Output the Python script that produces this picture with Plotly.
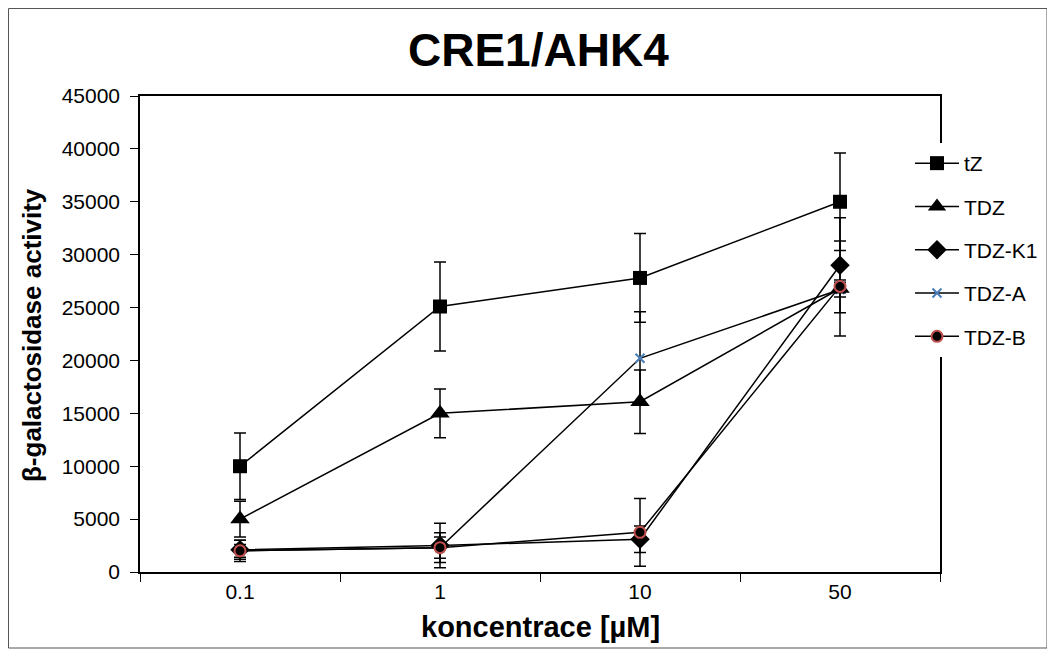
import plotly.graph_objects as go

categories = ["0.1", "1", "10", "50"]

tz = [10000, 25100, 27800, 35000]
tz_err = [3150, 4200, 4200, 4600]
tdz = [5000, 15000, 16100, 26800]
tdz_err = [1700, 2300, 3000, 4500]
tdz_k1 = [2100, 2500, 3100, 29000]
tdz_k1_err = [900, 2100, 1250, 4500]
tdz_a = [2000, 2300, 20200, 26700]
tdz_a_err = [600, 1000, 4400, 700]
tdz_b = [2000, 2300, 3750, 27000]
tdz_b_err = [1000, 1400, 3200, 600]

OFF = 8  # page body margin
W, H = 1055 - OFF, 657 - OFF
# plot area in screen pixels: x 140..940, y 96..572
L, T = 140 - OFF, 96 - OFF
R, B = W - (940 - OFF), H - (572 - OFF)
PW, PH = W - L - R, H - T - B

def px(x):
    return (x - OFF - L) / PW

def py(y):
    return (H - B - (y - OFF)) / PH

FONT = "Liberation Sans, Arial, sans-serif"

series = [
    ("tZ", tz, tz_err, dict(symbol="square", size=14, color="black")),
    ("TDZ", tdz, tdz_err, dict(symbol="triangle-up", size=17, color="black")),
    ("TDZ-K1", tdz_k1, tdz_k1_err, dict(symbol="diamond", size=15, color="black")),
    ("TDZ-A", tdz_a, tdz_a_err, dict(symbol="x-thin", size=9, color="#4a7ebb",
                                      line=dict(color="#4a7ebb", width=2))),
    ("TDZ-B", tdz_b, tdz_b_err, dict(symbol="circle", size=11, color="black",
                                      line=dict(color="#c0504d", width=2))),
]

fig = go.Figure()
for name, vals, errs, marker in series:
    fig.add_trace(go.Scatter(
        x=categories, y=vals, name=name, mode="lines+markers",
        legendgroup=name,
        line=dict(color="black", width=1.5),
        marker=marker,
        error_y=dict(type="data", array=errs, visible=True,
                     color="black", thickness=1.5, width=6),
    ))

fig.update_layout(
    width=W, height=H,
    margin=dict(l=L, r=R, t=T, b=B),
    paper_bgcolor="white", plot_bgcolor="white",
    font=dict(family=FONT, size=21, color="black"),
    showlegend=True,
    legend=dict(
        x=px(910), y=py(143), xanchor="left", yanchor="top",
        bgcolor="white", borderwidth=0,
        font=dict(family=FONT, size=21, color="black"),
        tracegroupgap=13, traceorder="grouped", itemwidth=44,
    ),
    xaxis=dict(
        type="category", range=[-0.5, 3.5],
        showline=True, linecolor="black", linewidth=1.5, mirror=True,
        ticks="outside", tickson="boundaries", ticklen=8, tickcolor="black",
        tickfont=dict(family=FONT, size=21), showgrid=False, zeroline=False,
    ),
    yaxis=dict(
        range=[0, 45000], dtick=5000, tickformat="d",
        showline=True, linecolor="black", linewidth=1.5, mirror=True,
        ticks="outside", ticklen=8, tickcolor="black", ticklabelstandoff=6,
        tickfont=dict(family=FONT, size=21), showgrid=False, zeroline=False,
    ),
    annotations=[
        dict(text="<b>CRE1/AHK4</b>", x=px(538), y=py(50), xref="paper", yref="paper",
             showarrow=False, font=dict(family=FONT, size=46, color="black"),
             xanchor="center", yanchor="middle"),
        dict(text="<b>koncentrace [µM]</b>", x=px(540), y=py(627), xref="paper", yref="paper",
             showarrow=False, font=dict(family=FONT, size=29, color="black"),
             xanchor="center", yanchor="middle"),
        dict(text="<b>β-galactosidase activity</b>", x=px(32), y=py(335), xref="paper", yref="paper",
             showarrow=False, textangle=-90, font=dict(family=FONT, size=26, color="black"),
             xanchor="center", yanchor="middle"),
    ],
    shapes=[
        dict(type="rect", xref="paper", yref="paper",
             x0=px(8.5), x1=px(1047), y0=py(8.5), y1=py(648),
             line=dict(color="#555555", width=1), layer="below"),
    ],
)

fig.write_html("out.html")
